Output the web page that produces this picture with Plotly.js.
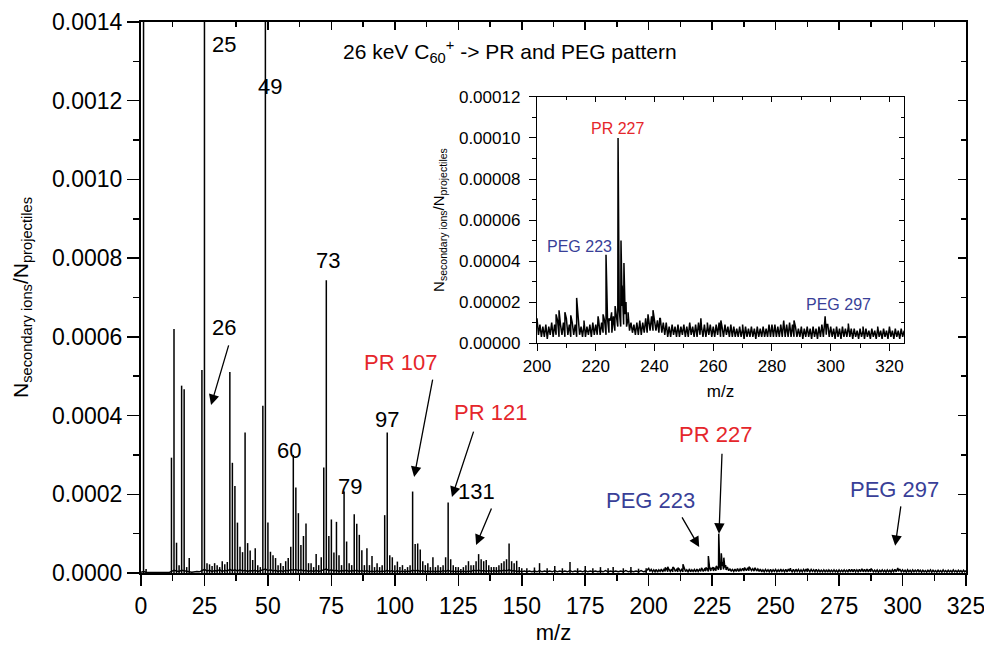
<!DOCTYPE html>
<html>
<head>
<meta charset="utf-8">
<script src="https://cdn.plot.ly/plotly-3.0.1.min.js"></script>
<style>html,body{margin:0;padding:0;background:#fff;}#chart{width:984px;height:645px;}</style>
</head>
<body>
<div id="chart"></div>
<script>
// Intensities are given in units of 1e-6 (N secondary ions / N projectiles)
const UNIT = 1e-6;

// Background signal, m/z 0..199 sampled every 1 u
const lowBaseStart = 0, lowBaseStep = 1;
const lowBase = [
  2,4,2,1,1,1,1,1,1,1,1,1,
  4,7,5,4,7,5,4,3,2,3,4,3,7,9,5,7,4,6,
  5,8,4,7,5,9,6,8,5,8,5,7,4,6,5,7,4,6,8,10,6,8,5,7,4,6,4,7,5,8,
  7,9,6,8,5,7,4,6,4,7,4,6,8,10,6,8,5,7,4,6,5,7,4,6,5,7,4,6,4,6,3,5,3,6,3,5,4,7,4,6,
  3,6,3,5,3,5,4,7,5,7,4,6,3,5,3,5,3,5,3,6,4,7,4,5,3,5,3,5,3,5,4,7,5,7,5,6,4,6,4,6,4,6,5,7,5,8,5,6,4,5,
  3,5,3,5,3,5,3,6,3,5,3,5,3,6,3,5,3,5,3,6,3,5,3,5,3,6,3,5,3,5,3,5,3,6,3,5,3,5,3,5,3,6,3,5,3,5,3,6,3,5
];

// Background signal, m/z 200..325 sampled every 0.5 u
const hiBaseStart = 200, hiBaseStep = 0.5;
const hiBase = [
  12,4,9,3,8,3,9,2,8,4,10,3,9,4,11,3,9,4,10,3,
  12,4,9,3,10,4,9,3,10,4,8,3,9,3,8,4,9,3,10,4,
  9,4,11,4,10,5,11,4,12,5,11,5,13,6,14,8,16,8,18,9,
  14,8,12,6,10,5,9,4,10,4,11,4,10,5,12,5,11,6,13,6,
  12,6,11,5,12,5,10,4,9,3,8,3,9,4,8,3,9,3,8,4,
  9,3,8,3,9,4,8,3,9,3,10,4,8,3,9,3,8,4,9,3,
  8,3,9,4,10,3,8,3,9,4,8,3,9,3,8,3,7,3,8,3,
  7,2,8,3,7,3,8,3,7,2,8,3,7,3,8,3,7,3,9,3,
  8,3,9,3,8,3,9,3,10,3,9,3,10,3,9,3,8,3,7,3,
  8,2,7,3,8,3,7,2,8,3,7,2,8,3,9,3,11,4,9,3,
  8,3,7,2,8,3,7,2,8,3,7,3,8,3,7,2,7,3,6,2,
  7,3,6,2,7,3,6,2,7,3,6,2,7,3,6,2,7,3,6,2,
  7,3,6,2,7,3,6,2,7,3,
  6
];

// Low-mass peaks (m/z < 200): positions and heights (1e-6 units)
const lowPeakMz = [1,2,12,13,14,15,16,17,18,19,24,25,26,27,28,29,30,31,32,33,34,35,36,37,38,39,40,41,42,43,44,45,46,47,48,49,
  50,51,52,53,54,55,56,57,58,59,60,61,62,63,64,65,66,67,68,69,70,71,72,73,74,75,76,77,78,79,80,81,82,83,84,85,86,87,88,89,
  90,91,92,93,94,95,96,97,98,99,100,101,102,103,104,105,106,107,108,109,110,111,112,113,114,115,116,117,118,119,120,121,122,
  123,124,125,126,127,128,129,130,131,132,133,134,135,136,137,138,139,140,141,142,143,144,145,146,147,148,149,150,152,155,
  157,160,163,166,169,172,175,178,181,184,186,190,193,196,199];
const lowPeakHeight = [5000,10,293,620,77,20,476,467,15,38,516,5000,25,22,18,25,20,15,30,22,28,511,280,221,128,67,53,357,76,57,33,63,20,15,425,5000,
  128,54,45,38,20,25,18,30,38,67,300,217,152,71,94,126,25,25,15,48,20,40,268,744,94,136,52,130,45,20,207,80,25,20,149,125,97,58,20,63,
  20,43,15,25,15,20,147,357,45,40,20,29,15,20,10,15,20,207,74,75,60,30,20,25,15,40,15,20,15,20,40,179,35,
  20,15,15,10,15,20,30,20,20,30,48,35,30,33,20,15,15,15,20,25,30,35,75,30,25,31,15,12,12,14,
  25,12,18,12,28,12,18,12,15,12,15,12,15,11,12];

// High-mass peaks (m/z 200..325): positions and heights (1e-6 units)
const hiPeakMz = [206.5,207.5,209.5,211.5,213.5,216,219,220.8,222.5,223.5,224.5,225.4,226.6,227.6,228.6,229.0,229.6,230.3,231,237.8,239.5,
  241.8,244,248,252,255.8,258,262.6,266,270,275,280,284,286,287.5,292,298.1,298.6,306,311,316,320];
const hiPeakHeight = [14,16,15,13.5,22,11,10,13,14,43,12,15,18,100,50,28,39,20,15,14,16,
  12,10,9,10,12,10,11,9,9,8,9,11,10,11,8,13,9,9.5,8,8,8];

const RED = '#e5262b', BLUE = '#393f98';

// spectrum line: background + high-mass peaks merged in m/z order
const pts = [];
lowBase.forEach((v, i) => pts.push([lowBaseStart + i * lowBaseStep, v * UNIT, 0]));
hiBase.forEach((v, i) => pts.push([hiBaseStart + i * hiBaseStep, v * UNIT, 0]));
hiPeakMz.forEach((m, i) => pts.push([m, hiPeakHeight[i] * UNIT, 1]));
pts.sort((a, b) => a[0] - b[0] || a[2] - b[2]);
const lineX = pts.map(p => p[0]), lineY = pts.map(p => p[1]);
// low-mass peak sticks
const stickX = [], stickY = [];
lowPeakMz.forEach((m, i) => { stickX.push(m, m, null); stickY.push(0, lowPeakHeight[i] * UNIT, null); });

const FONT = 'Liberation Sans, Arial, Helvetica, sans-serif';

const traces = [
  {x: lineX, y: lineY, type: 'scatter', mode: 'lines', line: {color: '#000', width: 1.5}, xaxis: 'x', yaxis: 'y', hoverinfo: 'skip'},
  {x: stickX, y: stickY, type: 'scatter', mode: 'lines', line: {color: '#000', width: 1.5}, xaxis: 'x', yaxis: 'y', hoverinfo: 'skip'},
  {x: lineX, y: lineY, type: 'scatter', mode: 'lines', line: {color: '#000', width: 1.5}, xaxis: 'x2', yaxis: 'y2', hoverinfo: 'skip'},
  // mirror axes carriers
  {x: [null], y: [null], xaxis: 'x3', yaxis: 'y', type: 'scatter', mode: 'lines', hoverinfo: 'skip'},
  {x: [null], y: [null], xaxis: 'x', yaxis: 'y3', type: 'scatter', mode: 'lines', hoverinfo: 'skip'},
  {x: [null], y: [null], xaxis: 'x4', yaxis: 'y2', type: 'scatter', mode: 'lines', hoverinfo: 'skip'},
  {x: [null], y: [null], xaxis: 'x2', yaxis: 'y4', type: 'scatter', mode: 'lines', hoverinfo: 'skip'}
];

const mainAx = {showline: true, linecolor: '#000', linewidth: 2, zeroline: false, showgrid: false, tickcolor: '#000', tickwidth: 1.5};
const insetAx = {showline: true, linecolor: '#000', linewidth: 1.2, zeroline: false, showgrid: false, tickcolor: '#000', tickwidth: 1};

function ann(x, y, text, size, color, ref) {
  return {x: x, y: y, xref: ref[0], yref: ref[1], text: text, showarrow: false,
    font: {family: FONT, size: size, color: color}, xanchor: 'center', yanchor: 'middle'};
}
function arrow(x0, y0, x1, y1) {
  return {x: x1, y: y1, ax: x0, ay: y0, xref: 'x', yref: 'y', axref: 'x', ayref: 'y', text: '',
    showarrow: true, arrowhead: 2, arrowsize: 1.6, arrowwidth: 1.3, arrowcolor: '#000', standoff: 0, startstandoff: 0};
}
const M = ['x', 'y'], I = ['x2', 'y2'];

const layout = {
  width: 984, height: 645,
  margin: {l: 141, r: 18, t: 22, b: 72, pad: 0},
  paper_bgcolor: '#fff', plot_bgcolor: '#fff',
  showlegend: false,
  font: {family: FONT, color: '#000'},
  xaxis: Object.assign({}, mainAx, {domain: [0, 1], range: [0, 325], tick0: 0, dtick: 25, ticks: 'outside', ticklen: 11,
    minor: {dtick: 12.5, ticks: 'outside', ticklen: 6, tickwidth: 1.5, tickcolor: '#000'},
    tickfont: {family: FONT, size: 23}, anchor: 'y', ticklabeloverflow: 'allow',
    title: {text: 'm/z', font: {family: FONT, size: 22}, standoff: 17}}),
  yaxis: Object.assign({}, mainAx, {domain: [0, 1], range: [0, 0.0014], tick0: 0, dtick: 0.0002, tickformat: '.4f', ticks: 'outside', ticklen: 12,
    minor: {dtick: 0.0001, ticks: 'outside', ticklen: 6, tickwidth: 1.5, tickcolor: '#000'},
    tickfont: {family: FONT, size: 23}, anchor: 'x', ticklabeloverflow: 'allow',
    title: {text: 'N<sub>secondary ions</sub>/N<sub>projectiles</sub>', font: {family: FONT, size: 21}, standoff: 18}}),
  xaxis3: Object.assign({}, mainAx, {overlaying: 'x', side: 'top', anchor: 'y', range: [0, 325], tick0: 0, dtick: 25, ticks: 'inside', ticklen: 8,
    minor: {dtick: 12.5, ticks: 'inside', ticklen: 5, tickwidth: 1.5, tickcolor: '#000'}, showticklabels: false}),
  yaxis3: Object.assign({}, mainAx, {overlaying: 'y', side: 'right', anchor: 'x', range: [0, 0.0014], tick0: 0, dtick: 0.0002, ticks: 'inside', ticklen: 8,
    minor: {dtick: 0.0001, ticks: 'inside', ticklen: 5, tickwidth: 1.5, tickcolor: '#000'}, showticklabels: false}),
  xaxis2: Object.assign({}, insetAx, {domain: [0.48, 0.925], anchor: 'y2', range: [200, 325], tick0: 200, dtick: 20, ticks: 'outside', ticklen: 7,
    minor: {dtick: 10, ticks: 'outside', ticklen: 4, tickwidth: 1, tickcolor: '#000'},
    tickfont: {family: FONT, size: 17},
    title: {text: 'm/z', font: {family: FONT, size: 17}, standoff: 10}}),
  yaxis2: Object.assign({}, insetAx, {domain: [0.4174, 0.8639], anchor: 'x2', range: [0, 0.00012], tick0: 0, dtick: 0.00002, tickformat: '.5f', ticks: 'outside', ticklen: 7,
    minor: {dtick: 0.00001, ticks: 'outside', ticklen: 4, tickwidth: 1, tickcolor: '#000'},
    tickfont: {family: FONT, size: 17}, ticklabelstandoff: 5,
    title: {text: 'N<sub>secondary ions</sub>/N<sub>projectiles</sub>', font: {family: FONT, size: 15}, standoff: 10}}),
  xaxis4: Object.assign({}, insetAx, {overlaying: 'x2', side: 'top', anchor: 'y2', range: [200, 325], tick0: 200, dtick: 20, ticks: 'inside', ticklen: 5,
    minor: {dtick: 10, ticks: 'inside', ticklen: 3, tickwidth: 1, tickcolor: '#000'}, showticklabels: false}),
  yaxis4: Object.assign({}, insetAx, {overlaying: 'y2', side: 'right', anchor: 'x2', range: [0, 0.00012], tick0: 0, dtick: 0.00002, ticks: 'inside', ticklen: 5,
    minor: {dtick: 0.00001, ticks: 'inside', ticklen: 3, tickwidth: 1, tickcolor: '#000'}, showticklabels: false}),
  annotations: [
    ann(145.4, 0.001324, '26 keV C<sub>60</sub><sup>+</sup> -> PR and PEG pattern', 21, '#000', M),
    ann(32.7, 0.001342, '25', 22, '#000', M),
    ann(50.8, 0.001235, '49', 22, '#000', M),
    ann(73.7, 0.000793, '73', 22, '#000', M),
    ann(32.7, 0.000623, '26', 22, '#000', M),
    ann(58.3, 0.00031, '60', 22, '#000', M),
    ann(82.3, 0.000221, '79', 22, '#000', M),
    ann(96.9, 0.000389, '97', 22, '#000', M),
    ann(102.4, 0.000534, 'PR 107', 22, RED, M),
    ann(137.5, 0.000409, 'PR 121', 22, RED, M),
    ann(132.0, 0.000208, '131', 22, '#000', M),
    ann(226.2, 0.000351, 'PR 227', 22, RED, M),
    ann(200.6, 0.000185, 'PEG 223', 22, BLUE, M),
    ann(296.7, 0.000211, 'PEG 297', 22, BLUE, M),
    arrow(34.7, 0.000582, 27.6, 0.000427),
    arrow(115.0, 0.000495, 107.6, 0.000244),
    arrow(131.2, 0.000363, 122.5, 0.000193),
    arrow(138.3, 0.000168, 132.0, 0.000071),
    arrow(228.9, 0.000307, 227.7, 0.000100),
    arrow(212.8, 0.000145, 219.9, 0.000066),
    arrow(299.4, 0.000173, 297.1, 0.000069),
    ann(227.5, 0.0001047, 'PR 227', 16, RED, I),
    ann(214.6, 0.0000472, 'PEG 223', 16, BLUE, I),
    ann(302.5, 0.0000189, 'PEG 297', 16, BLUE, I)
  ]
};

Plotly.newPlot('chart', traces, layout, {displayModeBar: false, staticPlot: true});
</script>
</body>
</html>
